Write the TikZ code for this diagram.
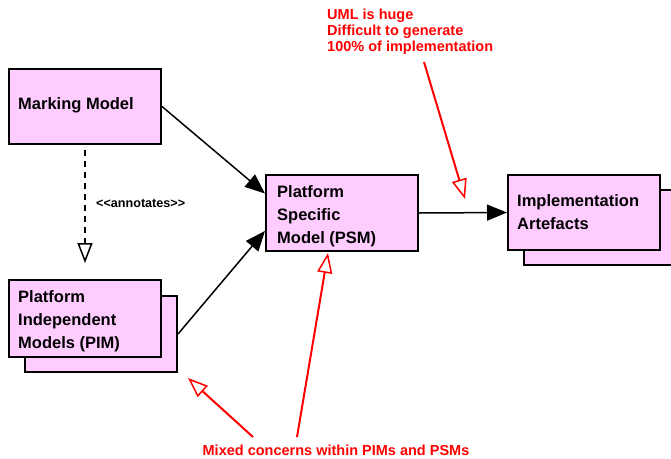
\documentclass[tikz,border=0pt]{standalone}
\usepackage{fontspec}
\setmainfont{Liberation Sans}
\usetikzlibrary{arrows.meta,calc}
\definecolor{boxpink}{HTML}{FFCCFF}
\definecolor{notered}{HTML}{FF0000}
\tikzset{
  box/.style={draw=black, line width=2pt, fill=boxpink, inner sep=0pt, anchor=north west},
  boxtext/.style={inner sep=0pt, anchor=north west, align=left,
    font=\fontsize{16.5}{23}\selectfont\bfseries},
  flow/.style={draw=black, line width=1.5pt, -{Triangle[length=20pt,width=16pt]}},
  annot/.style={draw=black, line width=1.5pt, dashed, dash pattern=on 6pt off 5pt,
    -{Triangle[open,length=20pt,width=15pt,fill=white]}},
  note/.style={text=notered, inner sep=0pt, align=left,
    font=\fontsize{14.5}{16}\selectfont\bfseries},
  noteline/.style={draw=notered, line width=2pt,
    -{Triangle[open,length=20pt,width=15pt,fill=white,line width=1.5pt]}},
}
\begin{document}
\begin{tikzpicture}[x=1pt,y=-1pt]
\useasboundingbox (0,0) rectangle (671,458);

% Marking model
\node[box, minimum width=152pt, minimum height=75pt] (mm) at (8,68) {};
\node[boxtext] (mmt) at (18,97) {Marking Model};

% Platform independent models (stacked)
\node[box, minimum width=152pt, minimum height=76pt] (pimb) at (24,295) {};
\node[box, minimum width=152pt, minimum height=77pt] (pim) at (8,279) {};
\node[boxtext] (pimt) at (18,290) {Platform\\Independent\\Models (PIM)};

% Platform specific model
\node[box, minimum width=152pt, minimum height=76pt] (psm) at (265,174) {};
\node[boxtext] (psmt) at (277,185) {Platform\\Specific\\Model (PSM)};

% Implementation artefacts (stacked)
\node[box, minimum width=152pt, minimum height=75pt] (implb) at (523,189) {};
\node[box, minimum width=152pt, minimum height=75pt] (impl) at (507,174) {};
\node[boxtext] (implt) at (517,194) {Implementation\\Artefacts};

% Transformations
\draw[flow] (mm.east) -- ($(psm.north west)!0.25!(psm.south west)$);
\draw[flow] (pimb.east) -- ($(psm.north west)!0.73!(psm.south west)$);
\draw[flow] (psm.east) -- (impl.west);

% Marking annotates the PIM
\draw[annot, shorten <=5pt, shorten >=16pt] (mm.south) -- (pim.north);
\node[inner sep=0pt, anchor=base west, font=\fontsize{12.6}{14}\selectfont\bfseries]
  (ann) at (96,207) {<{}<annotates>{}>};

% Notes
\node[note, anchor=north west] (uml) at (327,9) {UML is huge\\Difficult to generate\\100\% of implementation};
\coordinate (umlfrom) at (424,62);
\coordinate (umlto) at (465,199);
\draw[noteline] (umlfrom) -- (umlto);

\node[note, anchor=base] (mix) at (336,455) {Mixed concerns within PIMs and PSMs};
\coordinate (mixa) at (253,437);
\coordinate (mixb) at (297,437);
\coordinate (pimtip) at (188,378);
\coordinate (psmtip) at (328,253);
\draw[noteline] (mixa) -- (pimtip);
\draw[noteline] (mixb) -- (psmtip);
\end{tikzpicture}
\end{document}
